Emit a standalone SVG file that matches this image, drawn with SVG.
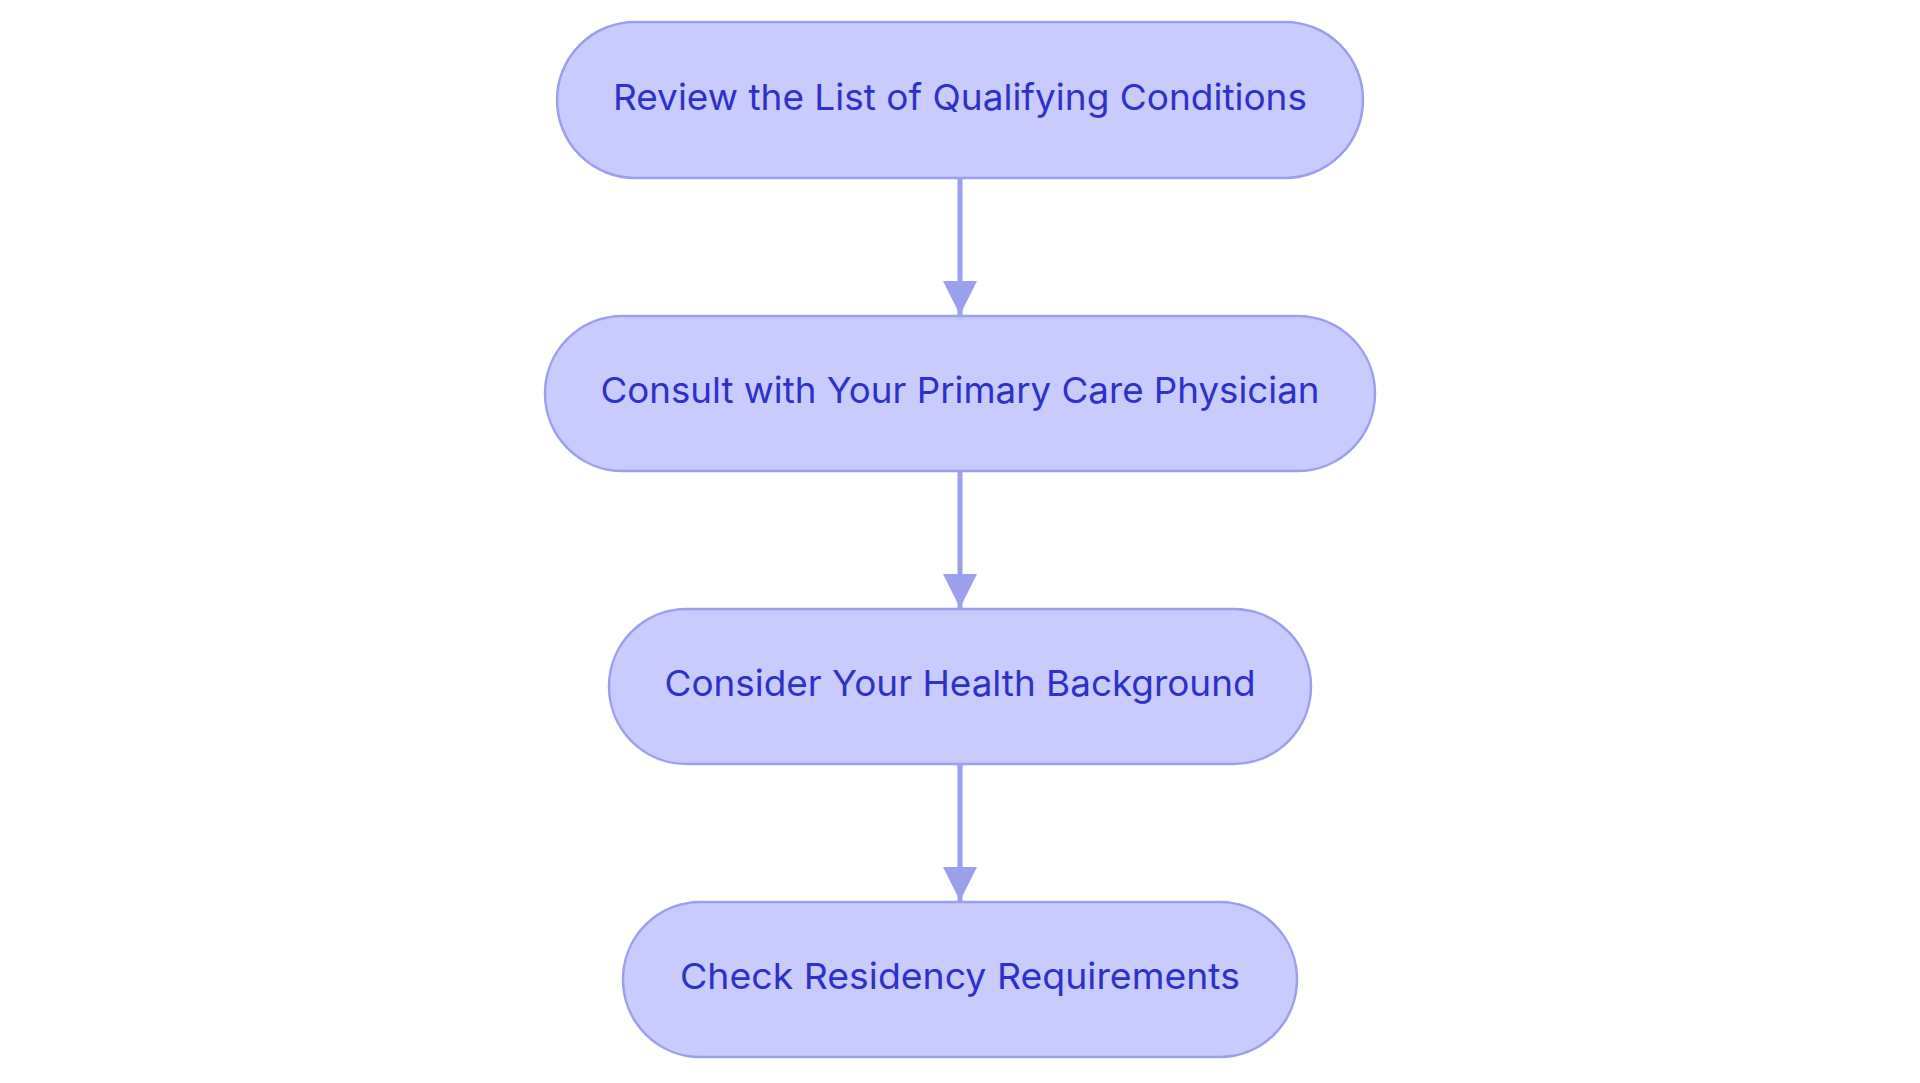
<svg xmlns="http://www.w3.org/2000/svg" width="1920" height="1083" viewBox="0 0 1920 1083">
<defs>
<style>
.node rect{fill:#c9cafd;stroke:#9ba0ee;stroke-width:2.5}
.node text{font-family:Inter,"Open Sans","Liberation Sans",sans-serif;font-size:36px;fill:#2e31c9;text-anchor:middle;dominant-baseline:central}
.edge{stroke:#9ba0ee;stroke-width:5;fill:none}
</style>
<marker id="arrow" markerUnits="userSpaceOnUse" markerWidth="34" markerHeight="34" refX="34" refY="17" orient="auto" viewBox="0 0 34 34">
<path d="M0,0 L34,17 L0,34 Z" fill="#9ba0ee"/>
</marker>
</defs>
<rect width="1920" height="1083" fill="#ffffff"/>
<g id="connectors">
<line class="edge" x1="960" y1="178" x2="960" y2="315" marker-end="url(#arrow)"/>
<line class="edge" x1="960" y1="471" x2="960" y2="608" marker-end="url(#arrow)"/>
<line class="edge" x1="960" y1="764" x2="960" y2="901" marker-end="url(#arrow)"/>
</g>
<g id="node1" class="node">
<rect x="557" y="22" width="806" height="156" rx="78" ry="78"/>
<text x="960" y="97" textLength="694" lengthAdjust="spacingAndGlyphs">Review the List of Qualifying Conditions</text>
</g>
<g id="node2" class="node">
<rect x="545" y="316" width="830" height="155" rx="77.5" ry="77.5"/>
<text x="960" y="390" textLength="719" lengthAdjust="spacingAndGlyphs">Consult with Your Primary Care Physician</text>
</g>
<g id="node3" class="node">
<rect x="609" y="609" width="702" height="155" rx="77.5" ry="77.5"/>
<text x="960" y="683" textLength="591" lengthAdjust="spacingAndGlyphs">Consider Your Health Background</text>
</g>
<g id="node4" class="node">
<rect x="623" y="902" width="674" height="155" rx="77.5" ry="77.5"/>
<text x="960" y="976" textLength="560" lengthAdjust="spacingAndGlyphs">Check Residency Requirements</text>
</g>
</svg>
